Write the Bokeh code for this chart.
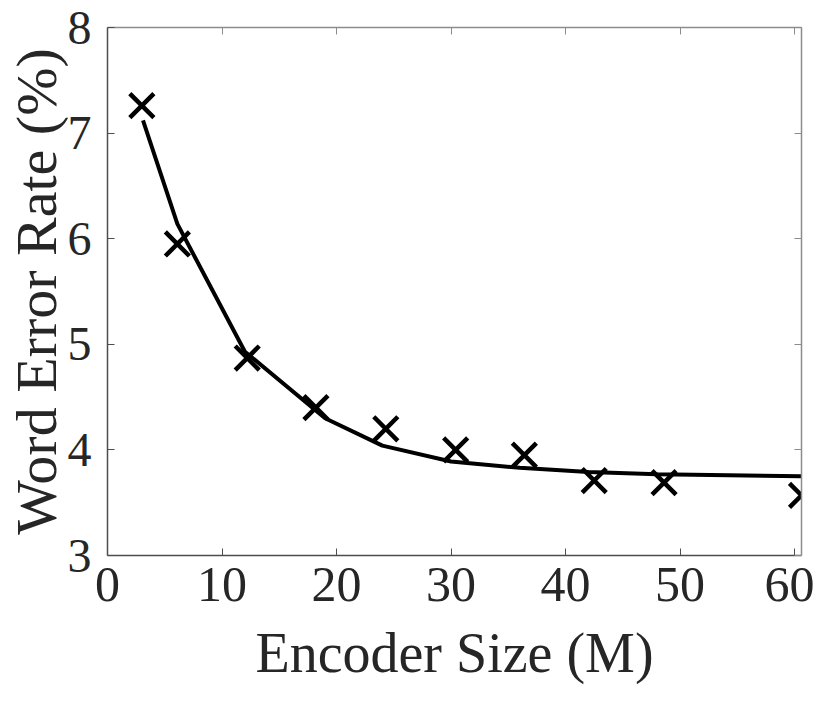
from bokeh.plotting import figure
from bokeh.models import Range1d, LinearAxis, FixedTicker, CustomJSTickFormatter
from bokeh.embed import file_html
from bokeh.resources import INLINE

# measured points
size_m = [3.0, 6.1, 12.2, 18.2, 24.3, 30.4, 36.4, 42.5, 48.6, 60.6]
wer = [7.26, 5.95, 4.87, 4.40, 4.20, 4.00, 3.95, 3.71, 3.69, 3.57]
# fitted curve
fit_x = [3.1, 6.1, 12.0, 19.0, 24.0, 30.0, 36.0, 42.0, 48.0, 60.6]
fit_y = [7.12, 6.14, 4.93, 4.30, 4.04, 3.89, 3.83, 3.79, 3.77, 3.75]
x_ticks = [0, 10, 20, 30, 40, 50, 60]
y_ticks = [3, 4, 5, 6, 7, 8]

FONT = "Liberation Serif"

p = figure(width=814, height=686, output_backend="svg", toolbar_location=None,
           x_range=Range1d(0, 60.6), y_range=Range1d(3, 8),
           min_border_left=106, min_border_right=13, min_border_top=27,
           min_border_bottom=126)
p.outline_line_color = None
p.grid.visible = False
p.background_fill_color = "white"

p.line(fit_x, fit_y, line_color="black", line_width=4)
p.scatter(size_m, wer, marker="x", size=34, line_color="black", line_width=4.5)

for ax in (p.xaxis[0], p.yaxis[0]):
    ax.major_tick_in = 7
    ax.major_tick_out = 0
    ax.minor_tick_line_color = None
    ax.axis_line_color = "#4d4d4d"
    ax.major_tick_line_color = "#4d4d4d"
    ax.axis_line_width = 1.5
    ax.major_label_text_font = FONT
    ax.major_label_text_color = "#262626"
    ax.axis_label_text_font = FONT
    ax.axis_label_text_font_style = "normal"
    ax.axis_label_text_color = "#262626"

p.xaxis[0].ticker = FixedTicker(ticks=x_ticks)
p.yaxis[0].ticker = FixedTicker(ticks=y_ticks)
p.xaxis[0].axis_label = "Encoder Size (M)"
p.yaxis[0].axis_label = "Word Error Rate (%)"
p.xaxis[0].major_label_text_font_size = "50px"
p.yaxis[0].major_label_text_font_size = "48px"
p.xaxis[0].axis_label_text_font_size = "56px"
p.yaxis[0].axis_label_text_font_size = "58px"
p.xaxis[0].major_label_standoff = 12
p.yaxis[0].major_label_standoff = 16
p.xaxis[0].axis_label_standoff = 18
p.yaxis[0].axis_label_standoff = -4

blank = CustomJSTickFormatter(code="return ''")
top = LinearAxis(ticker=FixedTicker(ticks=x_ticks), formatter=blank,
                 major_tick_in=7, major_tick_out=0, minor_tick_line_color=None,
                 axis_line_color="#8c8c8c", major_tick_line_color="#8c8c8c",
                 axis_line_width=1.5, major_label_standoff=0)
right = LinearAxis(ticker=FixedTicker(ticks=y_ticks), formatter=blank,
                   major_tick_in=7, major_tick_out=0, minor_tick_line_color=None,
                   axis_line_color="#8c8c8c", major_tick_line_color="#8c8c8c",
                   axis_line_width=1.5, major_label_standoff=0)
p.add_layout(top, "above")
p.add_layout(right, "right")

open("out.html", "w").write(file_html(p, INLINE))
